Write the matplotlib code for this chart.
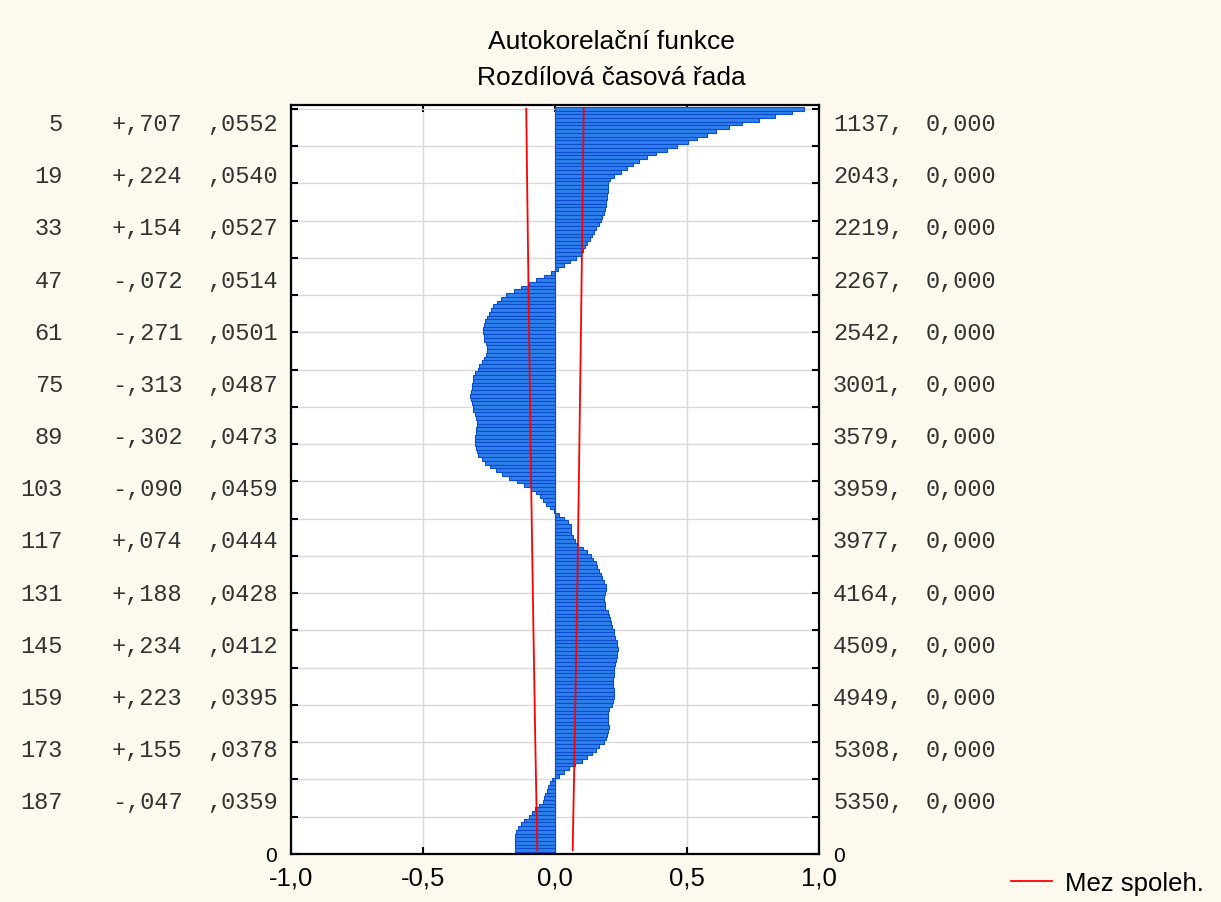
import matplotlib
matplotlib.use('Agg')
import matplotlib.pyplot as plt
from matplotlib import transforms
from matplotlib.lines import Line2D
import numpy as np

plt.rcParams['font.family'] = ['Liberation Sans', 'DejaVu Sans']

# autocorrelation for lags 1..200
acf = [
    0.943, 0.897, 0.835, 0.771, 0.707, 0.659, 0.610, 0.576, 0.539, 0.503,
    0.462, 0.424, 0.384, 0.349, 0.320, 0.296, 0.273, 0.249, 0.224, 0.209,
    0.202, 0.200, 0.199, 0.198, 0.196, 0.195, 0.193, 0.189, 0.184, 0.179,
    0.173, 0.168, 0.154, 0.147, 0.141, 0.134, 0.122, 0.113, 0.107, 0.097,
    0.079, 0.055, 0.034, 0.011, -0.016, -0.042, -0.072, -0.100, -0.130, -0.157,
    -0.184, -0.205, -0.220, -0.234, -0.243, -0.249, -0.256, -0.264, -0.268, -0.271,
    -0.271, -0.270, -0.268, -0.261, -0.258, -0.259, -0.262, -0.268, -0.278, -0.287,
    -0.293, -0.302, -0.309, -0.310, -0.313, -0.315, -0.319, -0.321, -0.317, -0.316,
    -0.312, -0.309, -0.304, -0.298, -0.296, -0.297, -0.298, -0.301, -0.302, -0.304,
    -0.302, -0.301, -0.296, -0.290, -0.278, -0.264, -0.246, -0.224, -0.199, -0.174,
    -0.145, -0.117, -0.090, -0.073, -0.058, -0.045, -0.035, -0.019, -0.004, 0.015,
    0.034, 0.049, 0.059, 0.062, 0.062, 0.067, 0.074, 0.087, 0.105, 0.122,
    0.135, 0.145, 0.154, 0.160, 0.165, 0.173, 0.178, 0.185, 0.193, 0.193,
    0.188, 0.185, 0.185, 0.188, 0.191, 0.202, 0.204, 0.208, 0.213, 0.217,
    0.223, 0.225, 0.228, 0.233, 0.234, 0.237, 0.236, 0.233, 0.232, 0.228,
    0.225, 0.225, 0.223, 0.220, 0.220, 0.220, 0.222, 0.223, 0.223, 0.218,
    0.215, 0.205, 0.202, 0.200, 0.199, 0.200, 0.204, 0.200, 0.196, 0.193,
    0.185, 0.168, 0.155, 0.141, 0.120, 0.101, 0.074, 0.053, 0.034, 0.015,
    -0.013, -0.019, -0.026, -0.031, -0.036, -0.041, -0.047, -0.060, -0.075, -0.087,
    -0.098, -0.117, -0.130, -0.139, -0.149, -0.152, -0.152, -0.152, -0.152, -0.152,
]

# rows printed beside the plot
label_lags = [5, 19, 33, 47, 61, 75, 89, 103, 117, 131, 145, 159, 173, 187]
se = [0.0552, 0.0540, 0.0527, 0.0514, 0.0501, 0.0487, 0.0473,
      0.0459, 0.0444, 0.0428, 0.0412, 0.0395, 0.0378, 0.0359]
q_stat = [1137, 2043, 2219, 2267, 2542, 3001, 3579,
          3959, 3977, 4164, 4509, 4949, 5308, 5350]
p_val = [0.000] * 14

# standard error at the first and last lag for the limit lines
lim_lags = [1] + label_lags + [200]
lim_se = [0.0556] + se + [0.0342]

xticks = [-1.0, -0.5, 0.0, 0.5, 1.0]
xticklabels = ['-1,0', '-0,5', '0,0', '0,5', '1,0']

W, H = 1221, 903
bg = '#fef9ef'
fig = plt.figure(figsize=(W / 100, H / 100), dpi=100, facecolor=bg)
ax = fig.add_axes([291 / W, 48 / H, 528 / W, 749 / H])
ax.set_facecolor('white')

nlag = len(acf)
lags = np.arange(1, nlag + 1)
ypos = nlag + 1 - lags
ax.barh(ypos, acf, height=1.0, color='#2f80ec', edgecolor='#0a4ccc',
        linewidth=0.8, zorder=2)

lim_y = nlag + 1 - np.array(lim_lags)
lim_x = 1.96 * np.array(lim_se)
ax.plot(-lim_x, lim_y, color='#ff0000', lw=1.3, zorder=3)
ax.plot(lim_x, lim_y, color='#ff0000', lw=1.3, zorder=3)

ax.set_xlim(-1, 1)
ax.set_ylim(0, nlag + 1)
ax.set_xticks(xticks)
ax.set_xticklabels(xticklabels)
yt = np.arange(0, nlag + 1, 10)
ax.set_yticks(yt)
ax.set_yticklabels(['0'] + [''] * (len(yt) - 1))
ax.tick_params(axis='both', direction='in', length=5, width=1.5,
               top=True, right=True, labelright=True)
ax.tick_params(axis='x', labelsize=18.5, pad=8)
ax.tick_params(axis='y', labelsize=15, pad=10)
ax.grid(color='#d9d9d9', lw=1.0)
ax.set_axisbelow(True)
for s in ax.spines.values():
    s.set_linewidth(1.6)

# numeric columns on both sides
tr = transforms.blended_transform_factory(fig.transFigure, ax.transData)
mono = dict(family=['Liberation Mono', 'DejaVu Sans Mono'], fontsize=17,
            va='center', color='#333333', transform=tr)
for i, lag in enumerate(label_lags):
    y = nlag + 1 - lag
    r = acf[lag - 1]
    r_txt = ('+' if r >= 0 else '-') + ',' + f"{abs(r):.3f}"[2:]
    se_txt = f"{se[i]:.4f}"[1:].replace('.', ',')
    fig.text(63 / W, y, str(lag), ha='right', **mono)
    fig.text(112 / W, y, r_txt, ha='left', **mono)
    fig.text(207 / W, y, se_txt, ha='left', **mono)
    fig.text(833 / W, y, f"{q_stat[i]},", ha='left', **mono)
    fig.text(926 / W, y, f"{p_val[i]:.3f}".replace('.', ','), ha='left', **mono)

fig.text(0.501, 1 - 42 / H, 'Autokorelační funkce', ha='center', va='center',
         fontsize=19)
fig.text(0.501, 1 - 78 / H, 'Rozdílová časová řada', ha='center', va='center',
         fontsize=19)

handle = Line2D([], [], color='#ff0000', lw=1.3)
fig.legend([handle], ['Mez spoleh.'], loc='center left',
           bbox_to_anchor=(1011 / W, 1 - 884 / H), frameon=False,
           fontsize=18.5, handlelength=1.6, handletextpad=0.5,
           borderpad=0, borderaxespad=0)

fig.savefig('out.png', dpi=100, facecolor=bg)
